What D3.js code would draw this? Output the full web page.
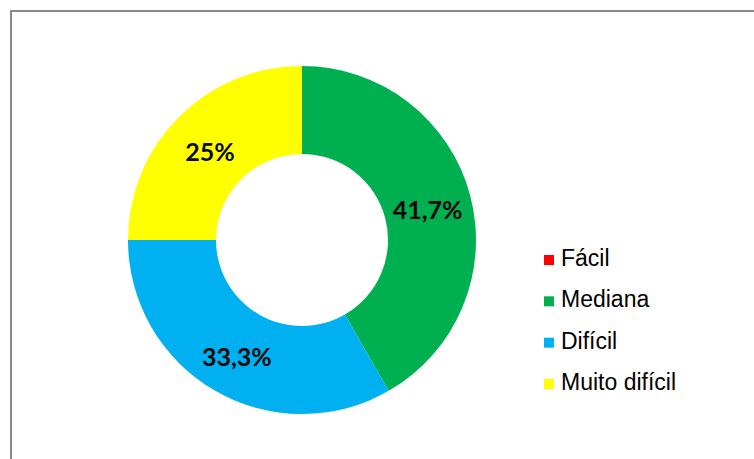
<!DOCTYPE html>
<html><head><meta charset="utf-8">
<script src="https://cdn.jsdelivr.net/npm/d3@7"></script>
<style>html,body{margin:0;padding:0;background:#fff;overflow:hidden}</style>
</head><body>
<svg id="c" width="754" height="459"></svg>
<script>
const categories = ["Fácil", "Mediana", "Difícil", "Muito difícil"];
const values = [0, 41.7, 33.3, 25];
const labels = ["0%", "41,7%", "33,3%", "25%"];
const colors = ["#FF0000", "#00B050", "#00B0F0", "#FFFF00"];

const svg = d3.select("#c");
svg.append("rect").attr("x", 11).attr("y", 11).attr("width", 800).attr("height", 500)
  .attr("fill", "#fff").attr("stroke", "#898989").attr("stroke-width", 2);

const cx = 302, cy = 240, rOut = 174, rIn = 86;
const pie = d3.pie().sort(null).value(d => d)(values);
const arc = d3.arc().innerRadius(rIn).outerRadius(rOut);
const g = svg.append("g").attr("transform", `translate(${cx},${cy})`);
g.selectAll("path").data(pie).join("path")
  .attr("d", arc).attr("fill", (d, i) => colors[i]);
g.selectAll("text").data(pie.filter(d => d.value > 0)).join("text")
  .attr("transform", d => { const c = arc.centroid(d); return `translate(${c[0]},${c[1] + 3})`; })
  .attr("text-anchor", "middle").attr("dominant-baseline", "central")
  .attr("font-family", "Lato, 'Open Sans', sans-serif").attr("font-weight", "bold")
  .attr("font-size", 25).attr("fill", "#0a0a0a")
  .text(d => labels[d.index]);

const y = d3.scalePoint().domain(categories).range([266, 390]);
const lg = svg.append("g");
categories.forEach((c, i) => {
  lg.append("rect").attr("x", 544).attr("y", y(c) - 11).attr("width", 10).attr("height", 10).attr("fill", colors[i]);
  lg.append("text").attr("x", 561).attr("y", y(c))
    .attr("font-family", "'Liberation Sans', Arial, sans-serif").attr("font-size", 23).attr("fill", "#000")
    .text(c);
});
</script>
</body></html>
